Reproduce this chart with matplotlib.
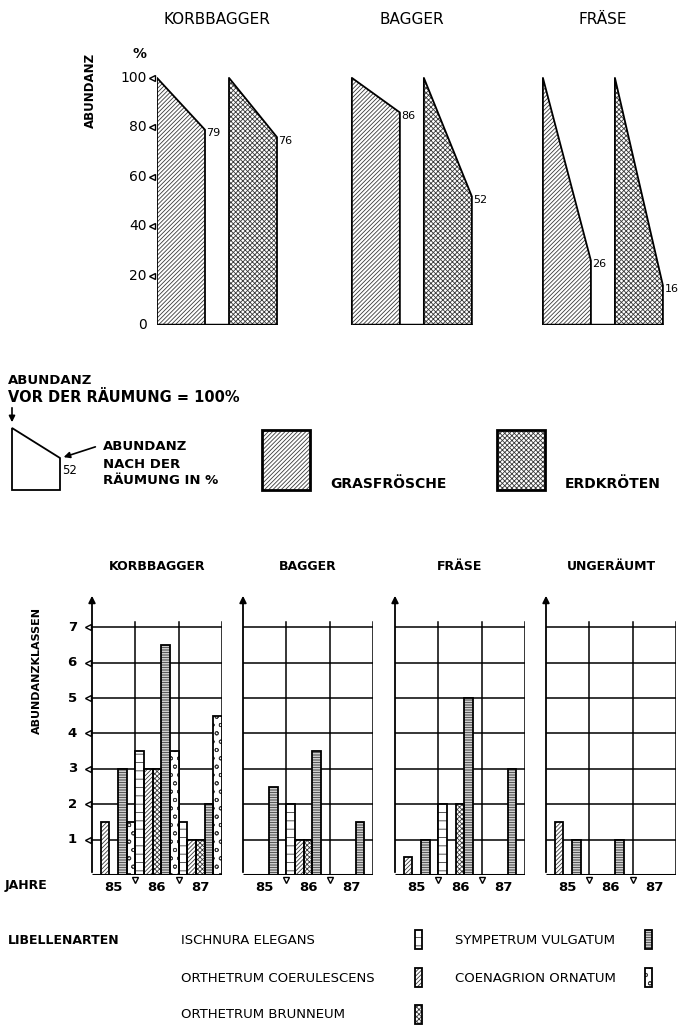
import matplotlib
matplotlib.use('Agg')
import matplotlib.pyplot as plt
from matplotlib.patches import Rectangle, Polygon

# ---------- data ----------
# Amphibien: Abundanz nach der Räumung in % (vorher = 100 %)
methoden_oben = ['KORBBAGGER', 'BAGGER', 'FRÄSE']
grasfroesche = [79, 86, 26]
erdkroeten = [76, 52, 16]
yticks_oben = [0, 20, 40, 60, 80, 100]

# Libellen: Abundanzklassen je Art (Zeilen) und Jahr (Spalten)
methoden_unten = ['KORBBAGGER', 'BAGGER', 'FRÄSE', 'UNGERÄUMT']
jahre = ['85', '86', '87']
arten = ['ISCHNURA ELEGANS', 'ORTHETRUM COERULESCENS', 'ORTHETRUM BRUNNEUM',
         'SYMPETRUM VULGATUM', 'COENAGRION ORNATUM']
korbbagger = [[0, 3.5, 1.5],
              [1.5, 3, 1],
              [0, 3, 1],
              [3, 6.5, 2],
              [1.5, 3.5, 4.5]]
bagger = [[0, 2, 0],
          [0, 1, 0],
          [0, 1, 0],
          [2.5, 3.5, 1.5],
          [0, 0, 0]]
fraese = [[0, 2, 0],
          [0.5, 0, 0],
          [0, 2, 0],
          [1, 5, 3],
          [0, 0, 0]]
ungeraeumt = [[0, 0, 0],
              [1.5, 0, 0],
              [0, 0, 0],
              [1, 1, 0],
              [0, 0, 0]]
libellen = [korbbagger, bagger, fraese, ungeraeumt]
yticks_unten = [1, 2, 3, 4, 5, 6, 7]

# ---------- styles ----------
plt.rcParams['hatch.linewidth'] = 0.6
HATCH_FROSCH = '////////'
HATCH_KROETE = 'xxxxxxx'
HATCH_ART = ['--', '////////', 'xxxxxxx', '----------', 'oo']
HGREY = '#3a3a3a'

W, H = 678, 1027
fig = plt.figure(figsize=(W / 100, H / 100), dpi=100)


def px_axes(x0, y0, x1, y1):
    # box in pixels, y counted from top
    return fig.add_axes([x0 / W, 1 - y1 / H, (x1 - x0) / W, (y1 - y0) / H])


def ftext(x, y, s, **kw):
    fig.text(x / W, 1 - y / H, s, **kw)


# overlay for the legend block (pixel coordinates)
lg = px_axes(0, 0, W, H)
lg.set_xlim(0, W)
lg.set_ylim(H, 0)
lg.axis('off')

# ---------- top: Amphibien ----------
ax = px_axes(157, 47, 678, 325)
ax.set_xlim(0, (678 - 157) / 48)
ax.set_ylim(0, 112.5)
ax.axis('off')
offsets = [0, 4.06, 8.04]
for i, m in enumerate(methoden_oben):
    x0 = offsets[i]
    for dx, v, hatch in [(0, grasfroesche[i], HATCH_FROSCH), (1.5, erdkroeten[i], HATCH_KROETE)]:
        xs = [x0 + dx, x0 + dx, x0 + dx + 1, x0 + dx + 1]
        ys = [0, 100, v, 0]
        ax.fill(xs, ys, facecolor='white', edgecolor=HGREY, hatch=hatch, lw=0)
        ax.plot(xs, ys, color='k', lw=1.3)
        ax.text(x0 + dx + 1.03, v - 1.5, str(v), ha='left', va='center', fontsize=8)
    ax.plot([x0, x0 + 2.5], [0, 0], color='k', lw=2.5, solid_capstyle='butt')
    ftext(157 + (x0 + 1.25) * 48, 20, m, ha='center', va='center', fontsize=11)

ax.annotate('', xy=(0, 113), xytext=(0, 0),
            arrowprops=dict(arrowstyle='-|>', color='k', lw=1.3, mutation_scale=10))
ax.plot([-0.1] * 5, yticks_oben[1:], marker='<', ls='none', ms=5, mfc='white',
        mec='k', mew=1, clip_on=False)
for v in yticks_oben:
    ax.text(-0.22, v, str(v), ha='right', va='center', fontsize=10)
ax.text(-0.22, 109.5, '%', ha='right', va='center', fontsize=10, fontweight='bold')
ftext(90, 90, 'ABUNDANZ', rotation=90, ha='center', va='center', fontsize=8.5,
      fontweight='bold')

# ---------- middle legend ----------
ftext(8, 381, 'ABUNDANZ', ha='left', va='center', fontsize=9.5, fontweight='bold')
ftext(8, 398, 'VOR DER RÄUMUNG = 100%', ha='left', va='center', fontsize=10.5,
      fontweight='bold')
lg.annotate('', xy=(12, 425), xytext=(12, 405),
            arrowprops=dict(arrowstyle='-|>', color='k', lw=1.2, mutation_scale=9))
lg.add_patch(Polygon([(12, 490), (12, 428), (60, 458), (60, 490)], closed=True,
                     facecolor='white', edgecolor='k', lw=1.3))
lg.text(62, 470, '52', ha='left', va='center', fontsize=8.5)
lg.annotate('', xy=(61, 458), xytext=(98, 446),
            arrowprops=dict(arrowstyle='-|>', color='k', lw=1.2, mutation_scale=9))
for k, s in enumerate(['ABUNDANZ', 'NACH DER', 'RÄUMUNG IN %']):
    ftext(103, 447 + 17 * k, s, ha='left', va='center', fontsize=9.5, fontweight='bold')
for x0, hatch, lab in [(262, HATCH_FROSCH, 'GRASFRÖSCHE'), (497, HATCH_KROETE, 'ERDKRÖTEN')]:
    lg.add_patch(Rectangle((x0, 430), 48, 60, facecolor='white', edgecolor=HGREY,
                           hatch=hatch, lw=0))
    lg.add_patch(Rectangle((x0, 430), 48, 60, facecolor='none', edgecolor='k', lw=2))
    ftext(x0 + 68, 484, lab, ha='left', va='center', fontsize=10, fontweight='bold')

# ---------- bottom: Libellen ----------
lefts = [92, 243, 395, 546]
for p, m in enumerate(methoden_unten):
    bx = px_axes(lefts[p], 593, lefts[p] + 130, 875)
    bx.set_xlim(0, 15)
    bx.set_ylim(0, 7.97)
    bx.axis('off')
    for k in yticks_unten:
        bx.plot([0, 15], [k, k], color='k', lw=1.1)
    for xv in [5, 10, 15]:
        bx.plot([xv, xv], [0, 7.15], color='k', lw=1.1)
    werte = libellen[p]
    for s in range(len(arten)):
        for j in range(len(jahre)):
            v = werte[s][j]
            if v <= 0:
                continue
            xpos = j * 5 + s
            bx.bar(xpos, v, width=1, align='edge', color='white', edgecolor=HGREY,
                   hatch=HATCH_ART[s], lw=0, zorder=3)
            bx.bar(xpos, v, width=1, align='edge', color='none', edgecolor='k',
                   lw=1.3, zorder=4)
    bx.plot([0, 15], [0, 0], color='k', lw=2.2, zorder=5, solid_capstyle='butt')
    bx.annotate('', xy=(0, 7.97), xytext=(0, 0),
                arrowprops=dict(arrowstyle='-|>', color='k', lw=1.3, mutation_scale=10))
    for j, yr in enumerate(jahre):
        bx.text(2.5 + 5 * j, -0.36, yr, ha='center', va='center', fontsize=9.5,
                fontweight='bold')
    bx.plot([5, 10], [-0.15, -0.15], marker='v', ls='none', ms=5, mfc='white',
            mec='k', mew=1, clip_on=False)
    if p == 0:
        bx.plot([-0.45] * 7, yticks_unten, marker='<', ls='none', ms=5, mfc='white',
                mec='k', mew=1, clip_on=False)
        for k in yticks_unten:
            bx.text(-1.75, k, str(k), ha='right', va='center', fontsize=9.5,
                    fontweight='bold')
    ftext(lefts[p] + 65, 567, m, ha='center', va='center', fontsize=9, fontweight='bold')

ftext(37, 670, 'ABUNDANZKLASSEN', rotation=90, ha='center', va='center', fontsize=8,
      fontweight='bold')
ftext(5, 885, 'JAHRE', ha='left', va='center', fontsize=9, fontweight='bold')

# ---------- species legend ----------
ftext(8, 940, 'LIBELLENARTEN', ha='left', va='center', fontsize=9, fontweight='bold')
leg_pos = [(181, 940, 415), (181, 978, 415), (181, 1015, 415), (455, 940, 645), (455, 978, 645)]
for s, name in enumerate(arten):
    tx, ty, ix = leg_pos[s]
    ftext(tx, ty, name, ha='left', va='center', fontsize=9.5)
    lg.add_patch(Rectangle((ix, ty - 10), 7, 19, facecolor='white', edgecolor=HGREY,
                           hatch=HATCH_ART[s], lw=0))
    lg.add_patch(Rectangle((ix, ty - 10), 7, 19, facecolor='none', edgecolor='k', lw=1.3))

fig.savefig('out.png', dpi=100, facecolor='white')
